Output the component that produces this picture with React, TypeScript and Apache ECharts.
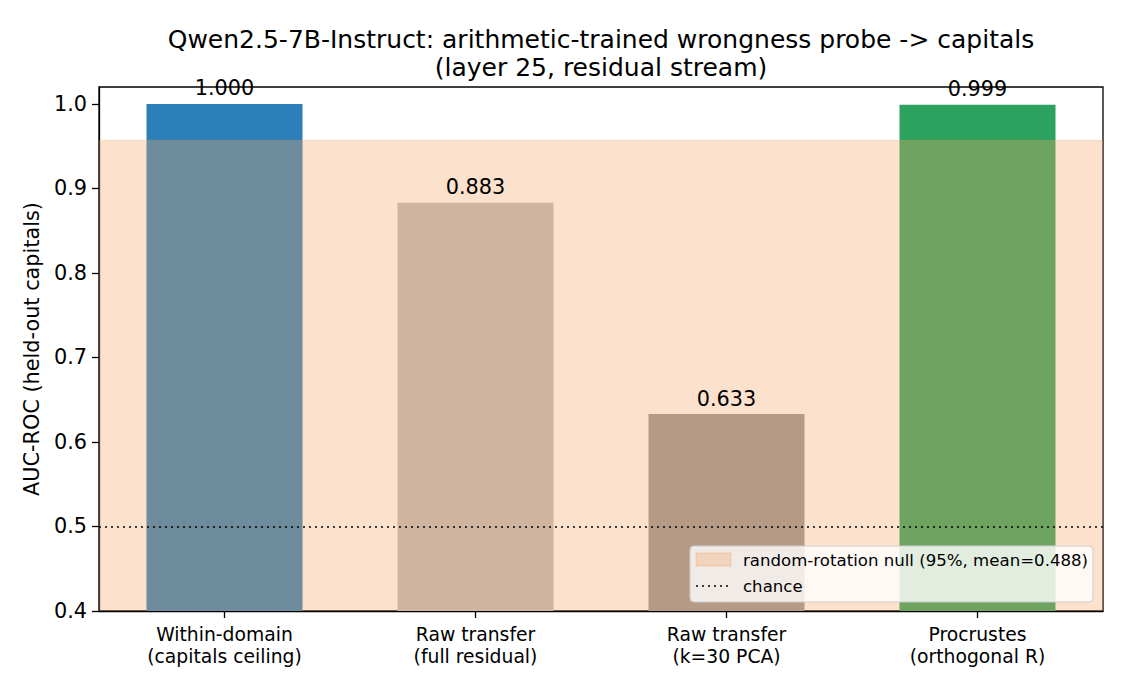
import React, { useEffect, useRef } from "react";
import * as echarts from "echarts";

const categories = [
  "Within-domain\n(capitals ceiling)",
  "Raw transfer\n(full residual)",
  "Raw transfer\n(k=30 PCA)",
  "Procrustes\n(orthogonal R)",
];
const aucValues = [1.0, 0.883, 0.633, 0.999];
const barColors = ["#2c7fb8", "#bdbdbd", "#969696", "#2ca25f"];
const nullBand = [0.4, 0.957];
const chanceLevel = 0.5;
const titleLines = [
  "Qwen2.5-7B-Instruct: arithmetic-trained wrongness probe -> capitals",
  "(layer 25, residual stream)",
];
const legendLabels = ["random-rotation null (95%, mean=0.488)", "chance"];

const FONT = "DejaVu Sans";

export default function App() {
  const ref = useRef<HTMLDivElement>(null);
  useEffect(() => {
    if (!ref.current) return;
    const chart = echarts.init(ref.current, null, { renderer: "svg" });
    const bandColor = "rgba(246,166,100,0.33)";
    const bandEdge = "rgba(246,166,100,0.22)";
    const option: any = {
      animation: false,
      backgroundColor: "#ffffff",
      textStyle: { fontFamily: FONT, color: "#000" },
      grid: {
        left: 99,
        right: 22,
        top: 87,
        bottom: 79,
        show: true,
        borderColor: "#000",
        borderWidth: 1.3,
        backgroundColor: "transparent",
      },
      xAxis: {
        type: "category",
        data: categories,
        boundaryGap: true,
        axisLine: { show: true, lineStyle: { color: "#000", width: 1.3 } },
        axisTick: { show: true, alignWithLabel: true, length: 7, lineStyle: { color: "#000", width: 1.3 } },
        axisLabel: {
          fontFamily: FONT,
          fontSize: 18.75,
          color: "#000",
          lineHeight: 22.5,
          margin: 12,
          interval: 0,
        },
        splitLine: { show: false },
      },
      yAxis: {
        type: "value",
        min: 0.4,
        max: 1.02,
        interval: 0.1,
        name: "AUC-ROC (held-out capitals)",
        nameLocation: "middle",
        nameRotate: 90,
        nameGap: 57,
        nameTextStyle: { fontFamily: FONT, fontSize: 20.8, color: "#000" },
        axisLine: { show: true, lineStyle: { color: "#000", width: 1.3 } },
        axisTick: { show: true, length: 7, lineStyle: { color: "#000", width: 1.3 } },
        axisLabel: {
          fontFamily: FONT,
          fontSize: 20.8,
          color: "#000",
          margin: 12,
          showMaxLabel: false,
          formatter: (v: number) => {
            const r = Math.round(v * 10) / 10;
            if (Math.abs(v - r) > 1e-6) return "";
            return r.toFixed(1);
          },
        },
        splitLine: { show: false },
      },
      series: [
        {
          type: "bar",
          z: 2,
          barWidth: 156,
          data: aucValues.map((v, i) => ({ value: v, itemStyle: { color: barColors[i] } })),
        },
        {
          type: "custom",
          name: "null",
          z: 3,
          silent: true,
          data: [[nullBand[0], nullBand[1]]],
          renderItem: (params: any, api: any) => {
            const cs = params.coordSys;
            const yLo = api.coord([0, api.value(0)])[1];
            const yHi = api.coord([0, api.value(1)])[1];
            return {
              type: "group",
              children: [
                {
                  type: "rect",
                  shape: { x: cs.x, y: yHi, width: cs.width, height: yLo - yHi },
                  style: { fill: bandColor },
                },
                {
                  type: "line",
                  shape: { x1: cs.x, y1: yHi, x2: cs.x + cs.width, y2: yHi },
                  style: { stroke: bandEdge, lineWidth: 1.2 },
                },
              ],
            };
          },
        },
        {
          type: "bar",
          name: "labels",
          z: 10,
          barWidth: 156,
          barGap: "-100%",
          silent: true,
          data: aucValues,
          itemStyle: { color: "rgba(0,0,0,0)" },
          label: {
            show: true,
            position: "top",
            distance: 5,
            fontFamily: FONT,
            fontSize: 20.8,
            color: "#000",
            formatter: (p: any) => Number(p.value).toFixed(3),
          },
        },
        {
          type: "line",
          name: "chance",
          z: 8,
          data: [],
          symbol: "none",
          markLine: {
            silent: true,
            z: 8,
            symbol: "none",
            label: { show: false },
            lineStyle: { color: "#000", width: 1.6, type: [2, 4] },
            data: [{ yAxis: chanceLevel }],
          },
        },
      ],
      graphic: [
        {
          type: "text",
          x: 601,
          y: 39,
          z: 10,
          style: {
            text: titleLines[0],
            fontFamily: FONT,
            fontSize: 25,
            fill: "#000",
            align: "center",
            verticalAlign: "middle",
          },
        },
        {
          type: "text",
          x: 601,
          y: 67,
          z: 10,
          style: {
            text: titleLines[1],
            fontFamily: FONT,
            fontSize: 25,
            fill: "#000",
            align: "center",
            verticalAlign: "middle",
          },
        },
        {
          type: "rect",
          z: 20,
          shape: { x: 690, y: 546, width: 403, height: 56, r: 4 },
          style: { fill: "rgba(255,255,255,0.8)", stroke: "#cccccc", lineWidth: 1 },
        },
        {
          type: "rect",
          z: 21,
          shape: { x: 696, y: 553, width: 35, height: 13 },
          style: { fill: bandColor, stroke: "rgba(246,166,100,0.4)", lineWidth: 1 },
        },
        {
          type: "line",
          z: 21,
          shape: { x1: 696, y1: 586, x2: 731, y2: 586 },
          style: { stroke: "#000", lineWidth: 1.6, lineDash: [2, 4] },
        },
        {
          type: "text",
          z: 21,
          x: 743,
          y: 560,
          style: {
            text: legendLabels[0],
            fontFamily: FONT,
            fontSize: 16.6,
            fill: "#000",
            align: "left",
            verticalAlign: "middle",
          },
        },
        {
          type: "text",
          z: 21,
          x: 743,
          y: 586,
          style: {
            text: legendLabels[1],
            fontFamily: FONT,
            fontSize: 16.6,
            fill: "#000",
            align: "left",
            verticalAlign: "middle",
          },
        },
      ],
    };
    chart.setOption(option);
    return () => chart.dispose();
  }, []);
  return <div ref={ref} style={{ width: 1125, height: 690, position: "absolute", left: 0, top: 0 }} />;
}
